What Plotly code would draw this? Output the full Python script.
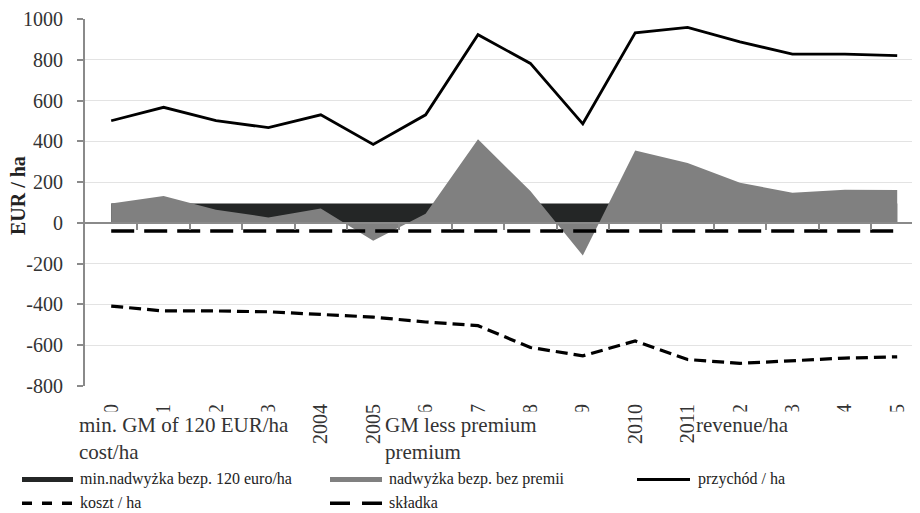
import plotly.graph_objects as go

# ---------------- data ----------------
years = [2000, 2001, 2002, 2003, 2004, 2005, 2006, 2007,
         2008, 2009, 2010, 2011, 2012, 2013, 2014, 2015]
min_gm_120 = [95, 95, 95, 95, 95, 95, 95, 95, 95, 95, 95, 95, 95, 95, 95, 95]
gm_less_premium = [95, 132, 65, 27, 71, -87, 45, 410, 156, -160, 355, 294, 197, 148, 162, 161]
revenue = [501, 567, 502, 467, 530, 385, 530, 923, 782, 486, 932, 959, 888, 828, 828, 820]
cost = [-408, -432, -432, -436, -449, -462, -486, -504, -611, -652, -579, -670, -689, -675, -663, -657]
premium = [-40, -40, -40, -40, -40, -40, -40, -40, -40, -40, -40, -40, -40, -40, -40, -40]
y_ticks = [-800, -600, -400, -200, 0, 200, 400, 600, 800, 1000]
y_tick_labels = ["-800", "-600", "-400", "-200", "0", "200", "400", "600", "800", "1000"]

legend_names = ["min.nadwyżka bezp. 120 euro/ha", "nadwyżka bezp. bez premii",
                "przychód / ha", "koszt / ha", "składka"]
overlay_texts = ["min. GM of 120 EUR/ha<br>cost/ha", "GM less premium<br>premium", "revenue/ha"]

# ---------------- geometry (page pixels; the page body adds an 8px offset) ----------------
OFF = 8
W, H = 920 - OFF, 513 - OFF
L, R, T, B = 85 - OFF, 920 - OFF, 17 - OFF, 386 - OFF
SERIF = "Liberation Serif"


def px2x(px):
    return (px - OFF - L) / (R - L)


def py2y(py):
    return (B - (py - OFF)) / (B - T)


fig = go.Figure()

fig.add_trace(go.Scatter(x=years, y=min_gm_120, mode="lines", fill="tozeroy",
                         fillcolor="#242626", line=dict(width=0, color="#242626"),
                         name=legend_names[0], showlegend=False))
fig.add_trace(go.Scatter(x=years, y=gm_less_premium, mode="lines", fill="tozeroy",
                         fillcolor="#808080", line=dict(width=0, color="#808080"),
                         name=legend_names[1], showlegend=False))
fig.add_trace(go.Scatter(x=years, y=premium, mode="lines",
                         line=dict(color="black", width=3.5, dash="23px,10px"),
                         name=legend_names[4], showlegend=False))
fig.add_trace(go.Scatter(x=years, y=cost, mode="lines",
                         line=dict(color="black", width=3.2, dash="12px,6px"),
                         name=legend_names[3], showlegend=False))
fig.add_trace(go.Scatter(x=years, y=revenue, mode="lines", xaxis="x2",
                         line=dict(color="black", width=2.8),
                         name=legend_names[2], showlegend=False))

xrange = [years[0] - 0.5, years[0] - 0.5 + (R - L) / 52.4]
boundaries = [y + 0.5 for y in years[:-1]]

fig.update_layout(
    width=W, height=H,
    margin=dict(l=L, r=W - R, t=T, b=H - B, pad=0),
    paper_bgcolor="white", plot_bgcolor="white",
    showlegend=False,
    font=dict(family=SERIF, color="#333333"),
    xaxis=dict(range=xrange, anchor="free", position=800 / 1800,
               showgrid=False, zeroline=False,
               showline=True, linecolor="#8a8a8a", linewidth=2,
               ticks="outside", ticklen=6, tickwidth=1.5, tickcolor="#8a8a8a",
               tickvals=boundaries, showticklabels=False),
    xaxis2=dict(range=xrange, overlaying="x", anchor="y", side="bottom",
                showgrid=False, zeroline=False, showline=False, ticks="",
                tickvals=years, ticktext=[str(y) for y in years],
                tickangle=-90, ticklabelstandoff=13, ticklabeloverflow="allow",
                tickfont=dict(family=SERIF, size=20, color="#333333")),
    yaxis=dict(range=[-800, 1000], tickvals=y_ticks, ticktext=y_tick_labels,
               showgrid=True, gridcolor="#e3e3e3", gridwidth=1,
               zeroline=False, showline=True, linecolor="#8a8a8a", linewidth=2,
               ticks="outside", ticklen=6, tickwidth=1.5, tickcolor="#8a8a8a",
               ticklabelstandoff=10, ticklabeloverflow="allow",
               tickfont=dict(family=SERIF, size=20, color="#333333")),
)

annotations = []
# y axis title
annotations.append(dict(text="<b>EUR / ha</b>", x=px2x(18), y=py2y(195),
                        xref="paper", yref="paper", showarrow=False, textangle=-90,
                        xanchor="center", yanchor="middle",
                        font=dict(family=SERIF, size=20, color="#222222")))

# white overlay text boxes (page pixel left edge, width)
boxes = [(77, 216), (383, 218), (694, 226)]
for (left, w), txt in zip(boxes, overlay_texts):
    annotations.append(dict(text=txt, x=px2x(left), y=py2y(411),
                            xref="paper", yref="paper", showarrow=False,
                            xanchor="left", yanchor="top", width=w, height=56,
                            align="left", valign="top", bgcolor="white", borderpad=1,
                            font=dict(family=SERIF, size=21, color="#333333")))

# manual legend
shapes = []
row1, row2 = 480, 503
shapes.append(dict(type="rect", xref="paper", yref="paper",
                   x0=px2x(22), x1=px2x(73), y0=py2y(482.5), y1=py2y(477.5),
                   fillcolor="#242626", line=dict(width=0)))
shapes.append(dict(type="rect", xref="paper", yref="paper",
                   x0=px2x(330), x1=px2x(382), y0=py2y(482.5), y1=py2y(477.5),
                   fillcolor="#808080", line=dict(width=0)))
shapes.append(dict(type="line", xref="paper", yref="paper",
                   x0=px2x(637), x1=px2x(690), y0=py2y(row1), y1=py2y(row1),
                   line=dict(color="black", width=3)))
shapes.append(dict(type="line", xref="paper", yref="paper",
                   x0=px2x(22), x1=px2x(73), y0=py2y(row2 + 1), y1=py2y(row2 + 1),
                   line=dict(color="black", width=3.5, dash="10px,10px")))
shapes.append(dict(type="line", xref="paper", yref="paper",
                   x0=px2x(330), x1=px2x(382), y0=py2y(row2 + 1), y1=py2y(row2 + 1),
                   line=dict(color="black", width=3.5, dash="20px,12px")))

legend_pos = [(78, row1), (387, row1), (696, row1), (78, row2), (387, row2)]
for name, (lx, ly) in zip(legend_names, legend_pos):
    annotations.append(dict(text=name, x=px2x(lx), y=py2y(ly), xref="paper", yref="paper",
                            showarrow=False, xanchor="left", yanchor="middle",
                            font=dict(family=SERIF, size=16, color="#222222")))

fig.update_layout(annotations=annotations, shapes=shapes)

fig.write_html("out.html")
